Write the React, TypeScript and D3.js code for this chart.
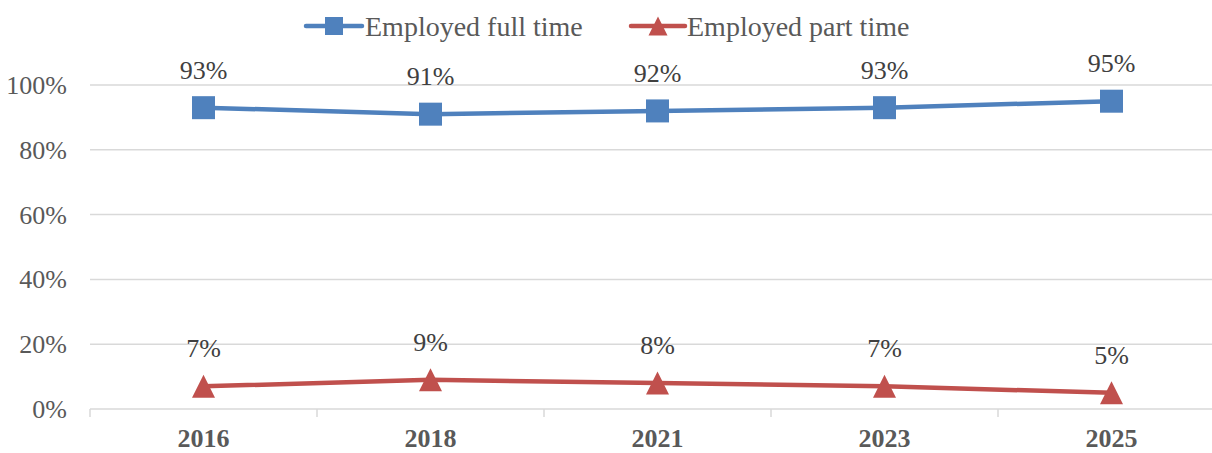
import React from "react";
import * as d3 from "d3";

const years = ["2016", "2018", "2021", "2023", "2025"];
const fullTime = [0.93, 0.91, 0.92, 0.93, 0.95];
const partTime = [0.07, 0.09, 0.08, 0.07, 0.05];
const yTicks = [0, 0.2, 0.4, 0.6, 0.8, 1.0];
const seriesNames = ["Employed full time", "Employed part time"];

const W = 1212;
const H = 453;
const BLUE = "#4F81BD";
const RED = "#C0504D";
const FONT = "Times New Roman, Liberation Serif, serif";

export default function App() {
  const x = d3.scaleBand<string>().domain(years).range([90, 90 + 227 * years.length]).padding(0);
  const y = d3.scaleLinear().domain([0, 1]).range([409, 85]);
  const cx = (d: string) => (x(d) ?? 0) + x.bandwidth() / 2;
  const line = d3
    .line<number>()
    .x((_, i) => cx(years[i]))
    .y((v) => y(v));
  const fmt = d3.format(".0%");
  const [x0, x1] = x.range();

  const tri = (px: number, py: number, s: number) =>
    `M${px},${py - s / 2}L${px + s / 2},${py + s / 2}L${px - s / 2},${py + s / 2}Z`;

  const textStyle = { fontFamily: FONT } as React.CSSProperties;

  return (
    <svg
      width={W}
      height={H}
      style={{ position: "absolute", left: 0, top: 0, display: "block", background: "#fff" }}
    >
      {/* gridlines */}
      {yTicks.map((t) => (
        <line key={t} x1={x0} x2={x1} y1={y(t)} y2={y(t)} stroke="#d9d9d9" strokeWidth={1.5} />
      ))}
      {/* x tick marks at band boundaries */}
      {years.map((yr) => (
        <line key={yr} x1={x(yr)} x2={x(yr)} y1={y(0)} y2={y(0) + 8} stroke="#d9d9d9" strokeWidth={1.5} />
      ))}
      {/* y tick labels */}
      {yTicks.map((t) => (
        <text key={t} x={67} y={y(t) + 9} textAnchor="end" style={textStyle} fontSize={26} fill="#595959">
          {fmt(t)}
        </text>
      ))}
      {/* x labels */}
      {years.map((yr) => (
        <text
          key={yr}
          x={cx(yr)}
          y={447}
          textAnchor="middle"
          style={textStyle}
          fontSize={26}
          fontWeight="bold"
          fill="#595959"
        >
          {yr}
        </text>
      ))}
      {/* full time line */}
      <path d={line(fullTime) ?? ""} fill="none" stroke={BLUE} strokeWidth={4.5} strokeLinecap="round" strokeLinejoin="round" />
      {fullTime.map((v, i) => (
        <rect key={i} x={cx(years[i]) - 11.5} y={y(v) - 11.5} width={23} height={23} fill={BLUE} />
      ))}
      {/* part time line */}
      <path d={line(partTime) ?? ""} fill="none" stroke={RED} strokeWidth={4.5} strokeLinecap="round" strokeLinejoin="round" />
      {partTime.map((v, i) => (
        <path key={i} d={tri(cx(years[i]), y(v), 23)} fill={RED} />
      ))}
      {/* data labels */}
      {fullTime.map((v, i) => (
        <text key={"f" + i} x={cx(years[i])} y={y(v) - 29} textAnchor="middle" style={textStyle} fontSize={26} fill="#404040">
          {fmt(v)}
        </text>
      ))}
      {partTime.map((v, i) => (
        <text key={"p" + i} x={cx(years[i])} y={y(v) - 29} textAnchor="middle" style={textStyle} fontSize={26} fill="#404040">
          {fmt(v)}
        </text>
      ))}
      {/* legend */}
      <g>
        <line x1={306} x2={362} y1={26} y2={26} stroke={BLUE} strokeWidth={4.5} strokeLinecap="round" />
        <rect x={325} y={17} width={18} height={18} fill={BLUE} />
        <text x={365} y={35.5} style={textStyle} fontSize={28} fill="#595959">
          {seriesNames[0]}
        </text>
        <line x1={631} x2={685} y1={26} y2={26} stroke={RED} strokeWidth={4.5} strokeLinecap="round" />
        <path d={tri(658, 26, 19)} fill={RED} />
        <text x={687} y={35.5} style={textStyle} fontSize={28} fill="#595959">
          {seriesNames[1]}
        </text>
      </g>
    </svg>
  );
}
